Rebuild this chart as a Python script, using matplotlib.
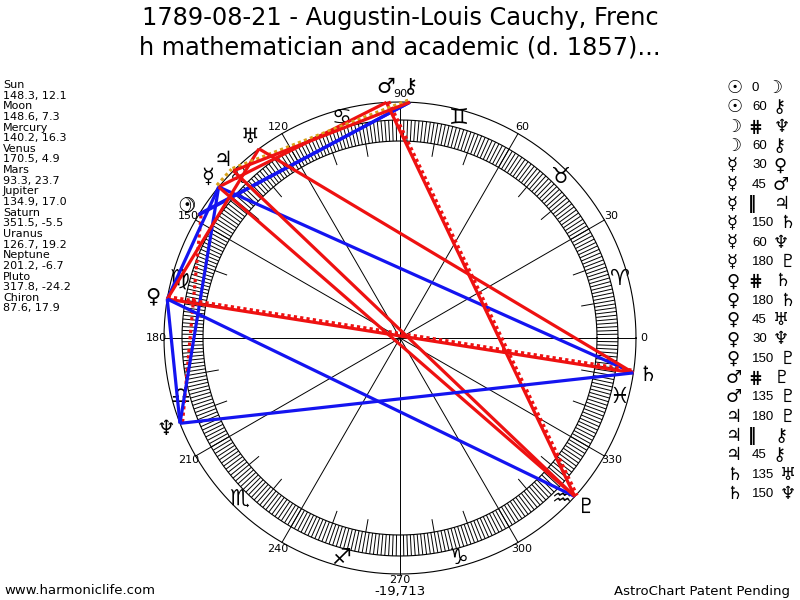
import numpy as np
import matplotlib
matplotlib.use("Agg")
from matplotlib import pyplot as plt
from matplotlib.collections import LineCollection

# chart data
planets = ['Sun', 'Moon', 'Mercury', 'Venus', 'Mars', 'Jupiter', 'Saturn',
           'Uranus', 'Neptune', 'Pluto', 'Chiron']
longitudes = [148.3, 148.6, 140.2, 170.5, 93.3, 134.9, 351.5, 126.7, 201.2, 317.8, 87.6]
declinations = [12.1, 7.3, 16.3, 4.9, 23.7, 17.0, -5.5, 19.2, -6.7, -24.2, 17.9]

asp_from = ['Sun', 'Sun', 'Moon', 'Moon', 'Mercury', 'Mercury', 'Mercury', 'Mercury',
            'Mercury', 'Mercury', 'Venus', 'Venus', 'Venus', 'Venus', 'Venus', 'Mars',
            'Mars', 'Jupiter', 'Jupiter', 'Jupiter', 'Saturn', 'Saturn']
asp_type = ['0', '60', '#', '60', '30', '45', '||', '150', '60', '180', '#', '180',
            '45', '30', '150', '#', '135', '180', '||', '45', '135', '150']
asp_to = ['Moon', 'Chiron', 'Neptune', 'Chiron', 'Venus', 'Mars', 'Jupiter', 'Saturn',
          'Neptune', 'Pluto', 'Saturn', 'Saturn', 'Uranus', 'Neptune', 'Pluto', 'Pluto',
          'Pluto', 'Pluto', 'Chiron', 'Chiron', 'Uranus', 'Neptune']

zodiac = ['♈', '♉', '♊', '♋', '♌', '♍', '♎', '♏', '♐', '♑', '♒', '♓']
degree_labels = [0, 30, 60, 90, 120, 150, 180, 210, 240, 270, 300, 330]

glyph = {'Sun': '☉', 'Moon': '☽', 'Mercury': '☿', 'Venus': '♀', 'Mars': '♂',
         'Jupiter': '♃', 'Saturn': '♄', 'Uranus': '♅', 'Neptune': '♆',
         'Pluto': '♇', 'Chiron': '⚷'}
asp_symbol = {'#': '⋕', '||': '‖'}
asp_style = {'0': ('#ee1111', '-'), '30': ('#1414f0', '-'), '60': ('#1414f0', '-'),
             '150': ('#1414f0', '-'), '45': ('#ee1111', '-'), '135': ('#ee1111', '-'),
             '180': ('#ee1111', '-'), '#': ('#ee1111', (0, (1, 1))),
             '||': ('#d9a21b', (0, (1, 1)))}

lon = dict(zip(planets, longitudes))

R_OUT, R_BAND, R_IN, R_TICK = 236, 218, 197, 184


def pol(r, deg):
    a = np.radians(deg)
    return r * np.cos(a), r * np.sin(a)


fig = plt.figure(figsize=(8, 6), dpi=100)
ax = fig.add_axes([0, 0, 1, 1])
ax.set_xlim(-400, 400)
ax.set_ylim(-262, 338)
ax.set_aspect('equal')
ax.axis('off')

# rings
t = np.linspace(0, 360, 721)
for r in (R_OUT, R_BAND, R_IN):
    x, y = pol(r, t)
    ax.plot(x, y, color='black', lw=0.8, zorder=1)

# degree hatching and 10 degree ticks
segs = []
for d in range(360):
    segs.append([pol(R_IN, d), pol(R_BAND, d)])
    if d % 10 == 0 and d % 30 != 0:
        segs.append([pol(R_TICK, d), pol(R_IN, d)])
ax.add_collection(LineCollection(segs, colors='black', linewidths=0.7, zorder=1))

# 30 degree spokes and labels
for d in degree_labels:
    x, y = pol(R_OUT, d)
    ax.plot([0, x], [0, y], color='black', lw=0.7, zorder=1)
    lx, ly = pol(242 if d == 270 else 244, d)
    ax.text(lx, ly, str(d), fontsize=8, ha='center', va='center', zorder=5)

# zodiac signs
for i, s in enumerate(zodiac):
    x, y = pol(227.5, 15 + 30 * i)
    ax.text(x, y, s, fontsize=16, ha='center', va='center', zorder=2)

# aspect lines
for p1, a, p2 in zip(asp_from, asp_type, asp_to):
    color, ls = asp_style[a]
    x1, y1 = pol(R_OUT, lon[p1])
    x2, y2 = pol(R_OUT, lon[p2])
    if ls != '-':
        dx, dy = x2 - x1, y2 - y1
        n = np.hypot(dx, dy)
        ox, oy = -dy / n * 2.5, dx / n * 2.5
        x1, x2, y1, y2 = x1 + ox, x2 + ox, y1 + oy, y2 + oy
    ax.plot([x1, x2], [y1, y2], color=color, lw=2.3, linestyle=ls,
            solid_capstyle='butt', zorder=3)

# planet glyphs
for p in planets:
    x, y = pol(251, lon[p])
    ax.text(x, y, glyph[p], fontsize=15, ha='center', va='center', zorder=4,
            fontweight='bold' if p in ('Sun', 'Moon') else 'normal')

# title
fig.text(0.5, 1 - 18 / 600, '1789-08-21 - Augustin-Louis Cauchy, Frenc',
         fontsize=17.3, ha='center', va='center')
fig.text(0.5, 1 - 48 / 600, 'h mathematician and academic (d. 1857)...',
         fontsize=17.3, ha='center', va='center')

# left panel: positions
left_lines = []
for p, l, d in zip(planets, longitudes, declinations):
    left_lines += [p, f'{l}, {d}']
fig.text(3 / 800, 1 - 80 / 600, '\n'.join(left_lines), fontsize=8,
         ha='left', va='top', linespacing=1.08)

# right panel: aspect list
for i, (p1, a, p2) in enumerate(zip(asp_from, asp_type, asp_to)):
    py = 88 + i * 19.33
    yf = 1 - py / 600
    fig.text(726 / 800, yf, glyph[p1], fontsize=13, ha='left', va='center')
    sym = asp_symbol.get(a, a)
    if sym == a:
        fig.text(752 / 800, yf, sym, fontsize=9.5, ha='left', va='center',
                 family='Liberation Sans')
        w = 6.5 * len(a) + 8
    else:
        fig.text(748 / 800, yf, sym, fontsize=12, ha='left', va='center',
                 fontweight='bold')
        w = 22
    fig.text((752 + w) / 800, yf, glyph[p2], fontsize=13, ha='left', va='center')

# footer
fig.text(4 / 800, 1 - 591 / 600, 'www.harmoniclife.com', fontsize=9.5, ha='left', va='center')
fig.text(0.5, 1 - 591 / 600, '-19,713', fontsize=9.5, ha='center', va='center')
fig.text(790 / 800, 1 - 591 / 600, 'AstroChart Patent Pending', fontsize=9.5,
         ha='right', va='center')

fig.savefig('out.png', dpi=100)
